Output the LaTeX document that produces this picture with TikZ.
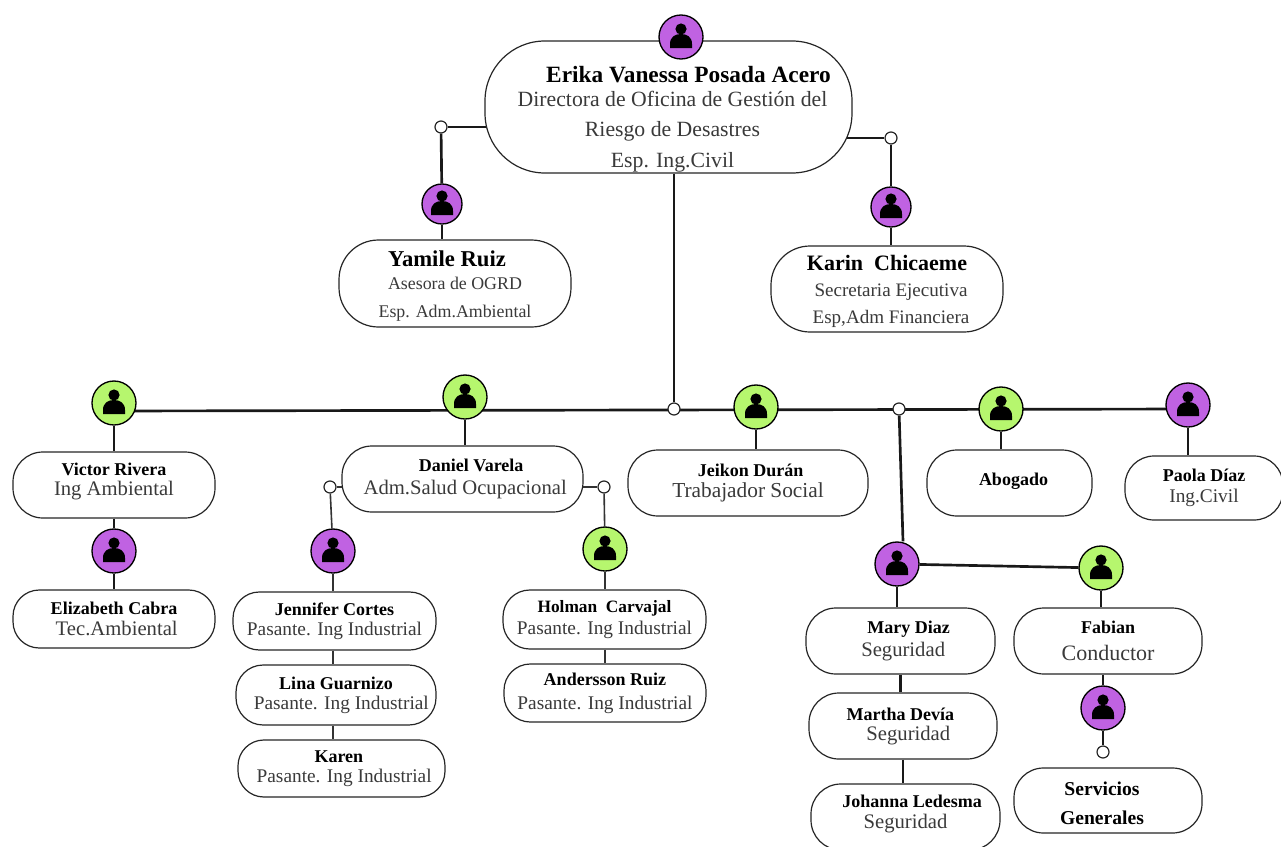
\documentclass[tikz,border=0pt]{standalone}
\usepackage{fontspec}
\setmainfont{Liberation Serif}
\usetikzlibrary{backgrounds}

\definecolor{lila}{HTML}{C062E2}
\definecolor{verde}{HTML}{B6F66E}
\definecolor{cargotxt}{HTML}{3A3A3A}

\newcommand{\nombre}[2][13.5]{{\fontsize{#1}{#1}\selectfont\bfseries #2}}
\newcommand{\cargo}[2][14.5]{{\fontsize{#1}{#1}\selectfont\color{cargotxt}#2}}
\newcommand{\subir}[1]{\rule[-#1]{0pt}{#1}}

\tikzset{
	caja/.style 2 args={draw=black!85, fill=white, line width=0.9pt, align=center,
		inner sep=0pt, minimum width=#1*0.75pt, minimum height=#2*0.75pt,
		rounded corners=#2*0.34pt},
	persona/.style 2 args={circle, draw=black, line width=1pt, fill=#1, inner sep=0pt,
		minimum size=#2*1.5pt,
		path picture={
			\begin{scope}[shift={(path picture bounding box.center)}]
			\fill [black] (0,-8) circle [radius=4.2pt];
			\fill [black] (-11,11) -- (-11,7) .. controls (-11,0) and (-6,-3) .. (0,-3)
				.. controls (6,-3) and (11,0) .. (11,7) -- (11,11) -- cycle;
			\end{scope}
		}},
	punto/.style={circle, draw=black!85, fill=white, line width=0.9pt,
		inner sep=0pt, minimum size=9pt},
	enlace/.style={black!90, line width=2pt},
	enlacefino/.style={black!80, line width=1.2pt}
}

\begin{document}
\begin{tikzpicture}[x=0.75pt, y=-0.75pt]
\useasboundingbox (0,0) rectangle (1281,846);

\node [caja={367}{132}] (erikaBox) at (668.5,107)
	{\rule{0pt}{31pt}\hspace*{30pt}\nombre[17.5]{Erika Vanessa Posada Acero}\\[6pt]
	\hspace*{6pt}\cargo[16.3]{Directora de Oficina de Gestión del}\\[10pt]
	\hspace*{6pt}\cargo[16.3]{Riesgo de Desastres}\\[8pt]
	\hspace*{6pt}\cargo[16.3]{Esp. Ing.Civil}};
\node [persona={lila}{22}] (erikaIcon) at (681,37) {};
\node [punto] (erikaLeft) at (441,127) {};
\node [punto] (erikaRight) at (891,138) {};

\node [persona={lila}{20}] (yamileIcon) at (442,204) {};
\node [caja={232}{87}] (yamileBox) at (455,283.5)
	{\rule{0pt}{16pt}\nombre[17]{Yamile Ruiz}\hspace*{12pt}\\[5pt]
	\cargo[13.4]{Asesora de OGRD}\hspace*{18pt}\\[9pt]
	\cargo[13.4]{Esp. Adm.Ambiental}};
\node [persona={lila}{20}] (karinIcon) at (891,207) {};
\node [caja={232}{86}] (karinBox) at (887,289)
	{\rule{0pt}{15pt}\nombre[16.5]{Karin\ \ Chicaeme}\\[8pt]
	\hspace*{6pt}\cargo[14.3]{Secretaria Ejecutiva}\\[6pt]
	\hspace*{6pt}\cargo[14.3]{Esp,Adm Financiera}};

\coordinate (busLeft) at (114,411);
\coordinate (busRight) at (1188,409);
\node [punto] (busCenter) at (674,409) {};
\node [punto] (busMaint) at (899,409) {};

\node [persona={verde}{22}] (victorIcon) at (114,403) {};
\node [caja={202}{66}] (victorBox) at (114,485)
	{\nombre{Victor Rivera}\\[3pt]\cargo[15.5]{Ing Ambiental}\subir{9pt}};
\node [persona={lila}{22}] (elizabethIcon) at (114,551) {};
\node [caja={202}{58}] (elizabethBox) at (114,619)
	{\nombre{Elizabeth Cabra}\\[4pt]\hspace*{4pt}\cargo[15.5]{Tec.Ambiental}};

\node [persona={verde}{22}] (danielIcon) at (465,397) {};
\node [caja={241}{66}] (danielBox) at (462.5,479)
	{\hspace*{13pt}\nombre{Daniel Varela}\\[5pt]\hspace*{4pt}\cargo[15.5]{Adm.Salud Ocupacional}};
\node [punto] (danielLeft) at (330,487) {};
\node [punto] (danielRight) at (604,487) {};

\node [persona={lila}{22}] (jenniferIcon) at (333,551) {};
\node [caja={203}{58}] (jenniferBox) at (334.5,621)
	{\nombre{Jennifer Cortes}\\[3pt]\cargo{Pasante. Ing Industrial}};
\node [caja={200}{60}] (linaBox) at (336,695)
	{\nombre{Lina Guarnizo}\\[3pt]\hspace*{8pt}\cargo{Pasante. Ing Industrial}};
\node [caja={207}{57}] (karenBox) at (341.5,768.5)
	{\hspace*{-4pt}\nombre{Karen}\\[3pt]\hspace*{4pt}\cargo{Pasante. Ing Industrial}};

\node [persona={verde}{22}] (holmanIcon) at (605,549) {};
\node [caja={203}{59}] (holmanBox) at (604.5,619.5)
	{\nombre[13]{Holman\ \ Carvajal}\\[3pt]\cargo{Pasante. Ing Industrial}};
\node [caja={202}{58}] (anderssonBox) at (605,693)
	{\nombre{Andersson Ruiz}\\[6pt]\cargo{Pasante. Ing Industrial}};

\node [persona={verde}{22}] (jeikonIcon) at (756,407) {};
\node [caja={240}{66}] (jeikonBox) at (748,483)
	{\hspace*{4pt}\nombre{Jeikon Durán}\\[4pt]\cargo[16]{Trabajador Social}};

\node [persona={verde}{22}] (abogadoIcon) at (1001,409) {};
\node [caja={165}{66}] (abogadoBox) at (1009.5,483) {\hspace*{6pt}\nombre{Abogado}\subir{6pt}};

\node [persona={lila}{22}] (paolaIcon) at (1188,405) {};
\node [caja={158}{64}] (paolaBox) at (1204,488)
	{\nombre{Paola Díaz}\\[4pt]\cargo{Ing.Civil}};

\node [persona={lila}{22}] (maryIcon) at (897,564) {};
\node [caja={189}{66}] (maryBox) at (900.5,641)
	{\hspace*{12pt}\nombre{Mary Diaz}\\[3pt]\hspace*{4pt}\cargo[15.5]{Seguridad}};
\node [caja={188}{66}] (marthaBox) at (903,726)
	{\hspace*{-4pt}\nombre{Martha Devía}\\[3pt]\hspace*{8pt}\cargo[15.5]{Seguridad}};
\node [caja={189}{66}] (johannaBox) at (905.5,817)
	{\hspace*{10pt}\nombre{Johanna Ledesma}\\[4pt]\cargo[15.5]{Seguridad}\subir{8pt}};

\node [persona={verde}{22}] (fabianIcon) at (1101,568) {};
\node [caja={188}{66}] (fabianBox) at (1108,641)
	{\nombre{Fabian}\\[8pt]\cargo[16.5]{Conductor}};
\node [persona={lila}{22}] (serviciosIcon) at (1103,708) {};
\node [punto] (serviciosDot) at (1103,752) {};
\node [caja={188}{65}] (serviciosBox) at (1108,800.5)
	{\rule{0pt}{14pt}\nombre[14.7]{Servicios}\hspace*{9pt}\\[10pt]\nombre[14.7]{Generales}\hspace*{9pt}};

\begin{scope}[on background layer]
\draw [enlace] (erikaBox.center |- erikaLeft) -- (erikaLeft);
\draw [enlace] (erikaLeft) -- (yamileIcon);
\draw [enlace] (yamileIcon) -- (yamileIcon |- yamileBox.north);
\draw [enlace] (erikaBox.center |- erikaRight) -- (erikaRight);
\draw [enlace] (erikaRight) -- (karinIcon);
\draw [enlace] (karinIcon) -- (karinIcon |- karinBox.north);
\draw [enlace] (erikaBox.south -| busCenter) -- (busCenter);

\draw [enlace] (busLeft) -- (busRight);
\draw [enlace] (victorIcon) -- (victorBox);
\draw [enlace] (victorBox) -- (elizabethIcon);
\draw [enlace] (elizabethIcon) -- (elizabethBox);
\draw [enlace] (danielIcon) -- (danielIcon |- danielBox.north);
\draw [enlace] (jeikonIcon) -- (jeikonIcon |- jeikonBox.north);
\draw [enlace] (abogadoIcon) -- (abogadoIcon |- abogadoBox.north);
\draw [enlace] (paolaIcon) -- (paolaIcon |- paolaBox.north);

\draw [enlacefino] (danielBox.center |- danielLeft) -- (danielLeft);
\draw [enlacefino] (danielBox.center |- danielRight) -- (danielRight);
\draw [enlacefino] (danielLeft) -- (jenniferIcon);
\draw [enlacefino] (danielRight) -- (holmanIcon);
\draw [enlacefino] (jenniferIcon) -- (jenniferIcon |- jenniferBox.north);
\draw [enlacefino] (jenniferIcon |- jenniferBox.south) -- (jenniferIcon |- linaBox.north);
\draw [enlacefino] (jenniferIcon |- linaBox.south) -- (jenniferIcon |- karenBox.north);
\draw [enlacefino] (holmanIcon) -- (holmanIcon |- holmanBox.north);
\draw [enlacefino] (holmanIcon |- holmanBox.south) -- (holmanIcon |- anderssonBox.north);

\draw [enlace] (busMaint) -- (maryIcon.north -| 903,0);
\draw [enlace] (maryIcon) -- (fabianIcon);
\draw [enlace] (maryIcon) -- (maryIcon |- maryBox.north);
\draw [enlace] (maryBox.south) -- (maryBox.south |- marthaBox.north);
\draw [enlace] (marthaBox.south) -- (marthaBox.south |- johannaBox.north);
\draw [enlace] (fabianIcon) -- (fabianIcon |- fabianBox.north);
\draw [enlace] (serviciosIcon |- fabianBox.south) -- (serviciosIcon);
\draw [enlace] (serviciosIcon) -- (serviciosDot);
\end{scope}
\end{tikzpicture}
\end{document}
